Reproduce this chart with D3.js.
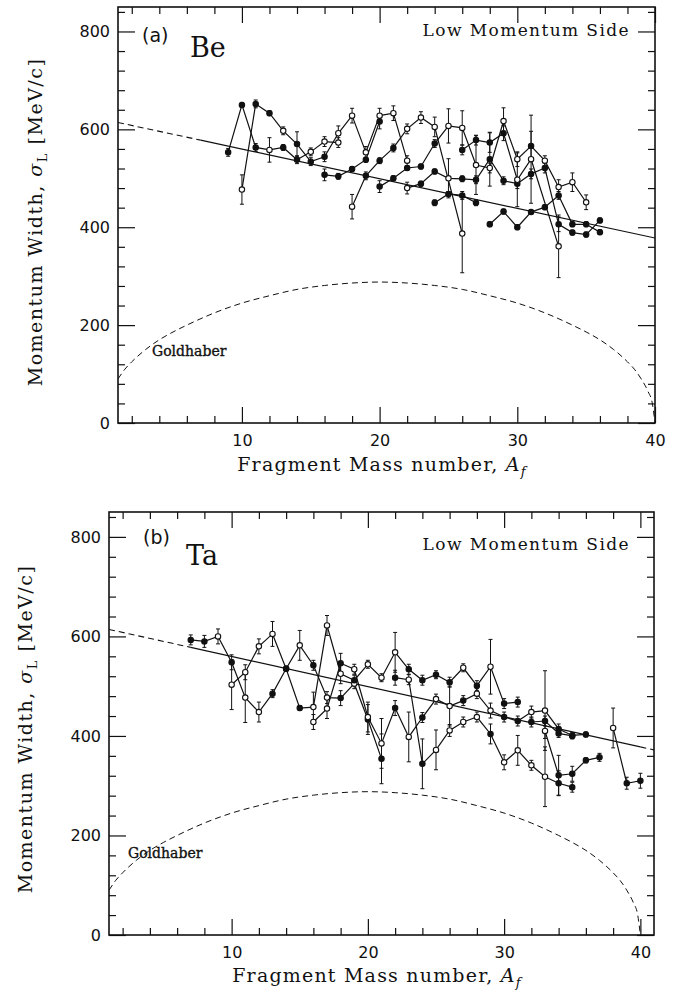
<!DOCTYPE html>
<html>
<head>
<meta charset="utf-8">
<script src="https://cdn.jsdelivr.net/npm/d3@7"></script>
<style>
  body { margin: 0; background: #fff; }
  svg text { fill: #111; }
</style>
</head>
<body>
<svg id="chart" width="684" height="994"></svg>
<script>
// ---- data ----
// each point: [fragment mass A, sigma_L (MeV/c), error, filled?]
const beChains = [
  [[9,553,8,1],[10,650,5,1],[11,563,8,1],[12,558,25,0],[13,563,6,1],[14,538,8,1],[15,554,8,0],[16,575,10,0],[17,573,10,0]],
  [[10,477,30,0],[11,652,8,1],[12,633,5,1],[13,597,8,0],[14,570,25,1],[15,534,8,1],[16,544,10,1],[17,592,15,0],[18,628,15,0],[19,553,12,0],[20,628,15,0],[21,633,15,0],[22,536,10,0]],
  [[16,507,12,1],[17,504,6,1],[18,519,5,1],[19,538,5,1],[20,616,15,1]],
  [[18,442,25,0],[19,505,8,1],[20,536,6,1],[21,562,8,1],[22,601,10,0],[23,624,12,0],[24,605,20,0],[26,387,80,0]],
  [[20,483,12,1],[21,500,5,1],[22,521,5,1],[23,524,5,1],[24,571,8,1],[25,607,35,0],[26,603,35,0],[27,527,60,0],[28,521,10,0],[29,617,27,0],[30,539,15,0],[31,566,30,1],[32,536,10,0],[33,482,15,0],[34,492,19,0],[35,451,15,0]],
  [[22,480,12,0],[23,489,5,1],[24,514,5,1],[25,500,40,0],[26,499,6,1],[27,497,8,1],[28,539,55,1],[29,495,8,1],[30,489,10,1],[31,509,10,1],[32,521,10,1],[33,406,15,1],[34,389,5,1],[35,385,5,1],[36,414,5,1]],
  [[24,450,6,1],[25,468,5,1],[26,465,8,1],[27,450,6,1]],
  [[26,558,10,1],[27,578,10,1],[28,573,20,1],[29,592,15,1],[30,497,55,0],[31,539,90,0],[33,361,64,0]],
  [[28,406,5,1],[29,432,5,1],[30,400,5,1],[31,431,5,1],[32,441,5,1],[33,465,8,1],[34,406,5,1],[35,406,5,1],[36,390,5,1]]
];

const taChains = [
  [[7,593,10,1],[8,590,12,1],[9,600,15,0],[10,548,15,1],[11,477,50,0],[12,448,20,0],[13,485,8,1],[14,535,5,1],[15,582,30,0],[16,542,10,1],[17,477,12,0],[18,476,15,1],[19,505,10,0],[20,433,30,1],[21,354,50,1]],
  [[10,503,50,0],[11,528,15,0],[12,580,15,0],[13,605,25,0],[14,535,5,1],[15,456,5,1],[16,458,30,0],[17,622,20,0],[18,525,20,0],[19,512,10,1],[20,544,8,0],[21,517,8,0],[22,568,40,0],[23,534,10,1],[24,512,10,1],[25,523,8,1],[26,508,10,1],[27,537,8,0],[28,501,10,1],[29,539,55,0],[30,465,10,1],[31,468,10,1]],
  [[16,428,15,0],[17,455,20,0],[18,546,20,1],[19,534,10,0],[20,438,30,0],[21,385,50,0],[22,456,15,1],[23,398,50,0],[24,437,10,1],[25,474,10,0],[26,460,40,0],[27,471,10,1],[28,485,10,0],[29,451,15,0],[30,438,10,1],[31,430,10,1],[32,448,12,0],[33,451,80,0],[34,414,10,1],[35,401,5,1],[36,403,5,1]],
  [[22,517,15,1],[23,513,10,0],[24,344,50,1],[25,372,40,0],[26,411,12,0],[27,428,10,0],[28,438,10,0],[29,404,20,1],[30,347,15,0],[31,371,30,0],[32,341,10,0],[33,318,60,0],[34,305,25,1],[35,297,10,1]],
  [[32,428,10,1],[33,430,10,1],[34,405,8,1],[35,400,6,1]],
  [[33,410,15,0],[34,321,40,1],[35,324,15,1],[36,351,5,1],[37,357,8,1]],
  [[38,416,40,0],[39,305,12,1],[40,310,15,1]]
];

// straight systematics line (dashed outside 7..40)
const fitLine = [[1,614],[7,578],[40,378],[41,372]];

// Goldhaber curve, read along the dashed arc
const goldhaber = [[1,90],[1.5,110],[2,125],[3,150],[4,170],[5,186],[6,200],[8,225],[10,245],[12,260],[14,273],[16,281],[18,286],[20,288],
  [22,286],[24,281],[26,273],[28,260],[30,245],[32,225],[34,200],[35,186],[36,170],[37,150],[38,125],[38.5,110],[39,90],[39.5,64],[39.8,41],[40,0]];

const xTickMajor = [10, 20, 30, 40];
const yTickMajor = [0, 200, 400, 600, 800];
const panelTags = ['(a)', '(b)'];
const targets = ['Be', 'Ta'];
const sideLabel = 'Low Momentum Side';

// ---- layout ----
const panels = [
  { id: 'a', left: 118, right: 655, top: 7, bottom: 423, xMax: 40, chains: beChains,
    tag: [142, 42], target: [190, 57], side: [630, 36], gold: [152, 356], xt: [382, 471], yt: [42, 222] },
  { id: 'b', left: 109, right: 654, top: 512, bottom: 935, xMax: 41, chains: taChains,
    tag: [143, 544], target: [186, 565], side: [630, 550], gold: [128, 858], xt: [377, 982], yt: [32, 729] }
];

const svg = d3.select('#chart');
const serif = 'DejaVu Serif';
const sans = 'DejaVu Sans';

function drawPanel(p, i) {
  const x = d3.scaleLinear().domain([1, p.xMax]).range([p.left, p.right]);
  const y = d3.scaleLinear().domain([0, 850]).range([p.bottom, p.top]);
  const g = svg.append('g');

  g.append('clipPath').attr('id', 'clip-' + p.id)
    .append('rect')
    .attr('x', p.left).attr('y', p.top)
    .attr('width', p.right - p.left).attr('height', p.bottom - p.top);

  const minorX = d3.range(2, p.xMax, 2).filter(v => v % 10 !== 0);
  const minorY = d3.range(40, 850, 40).filter(v => v % 200 !== 0);

  function addAxis(axis, tr, withLabels) {
    const a = g.append('g').attr('transform', tr).call(axis);
    a.select('.domain').remove();
    a.selectAll('line').attr('stroke', '#111').attr('stroke-width', 1.2);
    a.selectAll('text').attr('font-family', sans).attr('font-size', 16);
    if (!withLabels) a.selectAll('text').remove();
    return a;
  }

  // bottom / top
  addAxis(d3.axisBottom(x).tickValues(minorX).tickSize(-7).tickSizeOuter(0), `translate(0,${p.bottom})`, false);
  addAxis(d3.axisBottom(x).tickValues(xTickMajor).tickSize(-16).tickSizeOuter(0).tickPadding(12).tickFormat(d3.format('d')),
    `translate(0,${p.bottom})`, true);
  addAxis(d3.axisTop(x).tickValues(minorX).tickSize(-7).tickSizeOuter(0), `translate(0,${p.top})`, false);
  addAxis(d3.axisTop(x).tickValues(xTickMajor).tickSize(-16).tickSizeOuter(0), `translate(0,${p.top})`, false);
  // left / right
  addAxis(d3.axisLeft(y).tickValues(minorY).tickSize(-7).tickSizeOuter(0), `translate(${p.left},0)`, false);
  addAxis(d3.axisLeft(y).tickValues(yTickMajor).tickSize(-17).tickSizeOuter(0).tickPadding(8).tickFormat(d3.format('d')),
    `translate(${p.left},0)`, true);
  addAxis(d3.axisRight(y).tickValues(minorY).tickSize(-7).tickSizeOuter(0), `translate(${p.right},0)`, false);
  addAxis(d3.axisRight(y).tickValues(yTickMajor).tickSize(-17).tickSizeOuter(0), `translate(${p.right},0)`, false);

  // frame
  g.append('rect')
    .attr('x', p.left).attr('y', p.top)
    .attr('width', p.right - p.left).attr('height', p.bottom - p.top)
    .attr('fill', 'none').attr('stroke', '#111').attr('stroke-width', 1.6);

  const plot = g.append('g').attr('clip-path', `url(#clip-${p.id})`);
  const line = d3.line().x(d => x(d[0])).y(d => y(d[1]));

  // Goldhaber curve
  plot.append('path')
    .datum(goldhaber)
    .attr('d', line.curve(d3.curveMonotoneX))
    .attr('fill', 'none').attr('stroke', '#111').attr('stroke-width', 1)
    .attr('stroke-dasharray', '6,4');
  line.curve(d3.curveLinear);

  // systematics line
  plot.append('path').datum(fitLine.slice(0, 2)).attr('d', line)
    .attr('fill', 'none').attr('stroke', '#111').attr('stroke-width', 1.1).attr('stroke-dasharray', '6,4');
  plot.append('path').datum(fitLine.slice(1, 3)).attr('d', line)
    .attr('fill', 'none').attr('stroke', '#111').attr('stroke-width', 1.2);
  plot.append('path').datum(fitLine.slice(2, 4)).attr('d', line)
    .attr('fill', 'none').attr('stroke', '#111').attr('stroke-width', 1.1).attr('stroke-dasharray', '6,4');

  // isotope chains
  plot.selectAll('path.chain')
    .data(p.chains)
    .enter().append('path')
    .attr('class', 'chain')
    .attr('d', line)
    .attr('fill', 'none').attr('stroke', '#111').attr('stroke-width', 1.2);

  const pts = p.chains.flat();

  // error bars
  const eb = plot.selectAll('g.err').data(pts).enter().append('g').attr('class', 'err')
    .attr('stroke', '#111').attr('stroke-width', 1);
  eb.append('line')
    .attr('x1', d => x(d[0])).attr('x2', d => x(d[0]))
    .attr('y1', d => y(d[1] - d[2])).attr('y2', d => y(d[1] + d[2]));
  eb.append('line')
    .attr('x1', d => x(d[0]) - 2).attr('x2', d => x(d[0]) + 2)
    .attr('y1', d => y(d[1] + d[2])).attr('y2', d => y(d[1] + d[2]));
  eb.append('line')
    .attr('x1', d => x(d[0]) - 2).attr('x2', d => x(d[0]) + 2)
    .attr('y1', d => y(d[1] - d[2])).attr('y2', d => y(d[1] - d[2]));

  // markers
  plot.selectAll('circle.pt').data(pts).enter().append('circle')
    .attr('class', 'pt')
    .attr('cx', d => x(d[0])).attr('cy', d => y(d[1]))
    .attr('r', 2.7)
    .attr('fill', d => d[3] ? '#111' : '#fff')
    .attr('stroke', '#111').attr('stroke-width', 1.1);

  // labels
  g.append('text').attr('x', p.tag[0]).attr('y', p.tag[1])
    .attr('font-family', sans).attr('font-size', 19).text(panelTags[i]);
  g.append('text').attr('x', p.target[0]).attr('y', p.target[1])
    .attr('font-family', serif).attr('font-size', 27).text(targets[i]);
  g.append('text').attr('x', p.side[0]).attr('y', p.side[1])
    .attr('text-anchor', 'end')
    .attr('font-family', serif).attr('font-size', 17).attr('letter-spacing', 1.4)
    .text(sideLabel);
  g.append('text').attr('x', p.gold[0]).attr('y', p.gold[1])
    .attr('font-family', serif).attr('font-size', 14)
    .attr('stroke', '#111').attr('stroke-width', 0.35)
    .text('Goldhaber');

  // x title
  const xt = g.append('text').attr('x', p.xt[0]).attr('y', p.xt[1])
    .attr('text-anchor', 'middle')
    .attr('font-family', serif).attr('font-size', 19).attr('letter-spacing', 1.2);
  xt.append('tspan').text('Fragment Mass number, ');
  xt.append('tspan').attr('font-style', 'italic').text('A');
  xt.append('tspan').attr('font-style', 'italic').attr('font-size', 13).attr('dy', 5).text('f');

  // y title
  const yt = g.append('text')
    .attr('transform', `translate(${p.yt[0]},${p.yt[1]}) rotate(-90)`)
    .attr('text-anchor', 'middle')
    .attr('font-family', serif).attr('font-size', 19).attr('letter-spacing', 1.5);
  yt.append('tspan').text('Momentum Width, ');
  yt.append('tspan').attr('font-style', 'italic').text('σ');
  yt.append('tspan').attr('font-size', 13).attr('dy', 5).text('L');
  yt.append('tspan').attr('dy', -5).text(' [MeV/c]');
}

panels.forEach(drawPanel);
</script>
</body>
</html>
